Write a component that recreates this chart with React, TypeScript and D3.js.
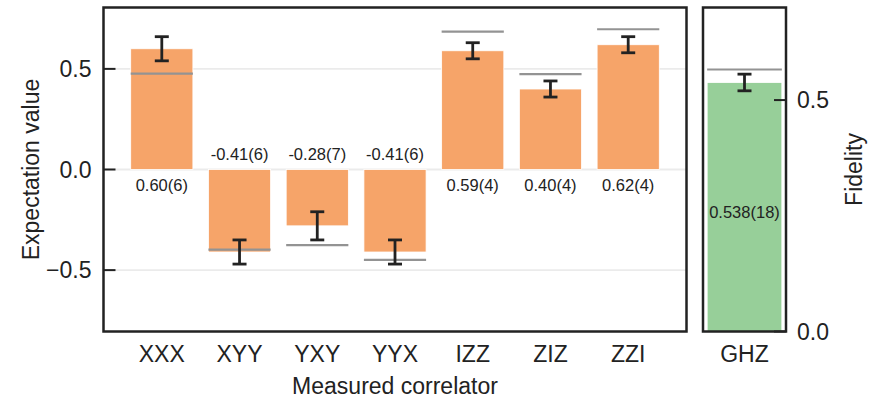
import React from "react";
import * as d3 from "d3";

const categories = ["XXX", "XYY", "YXY", "YYX", "IZZ", "ZIZ", "ZZI"];
const values = [0.6, -0.41, -0.28, -0.41, 0.59, 0.4, 0.62];
const errors = [0.06, 0.06, 0.07, 0.06, 0.04, 0.04, 0.04];
const ideals = [0.476, -0.398, -0.376, -0.449, 0.685, 0.474, 0.697];
const valueLabels = ["0.60(6)", "-0.41(6)", "-0.28(7)", "-0.41(6)", "0.59(4)", "0.40(4)", "0.62(4)"];
const leftTicks = [-0.5, 0, 0.5];
const leftTickLabels = ["\u22120.5", "0.0", "0.5"];

const ghzCategory = ["GHZ"];
const ghzValue = [0.538];
const ghzError = [0.018];
const ghzIdeal = [0.566];
const ghzLabel = ["0.538(18)"];
const rightTicks = [0, 0.5];
const rightTickLabels = ["0.0", "0.5"];

const FONT = "'Liberation Sans', Arial, Helvetica, sans-serif";
const TXT = "#222";
const ORANGE = "#F6A469";
const GREEN = "#97CF99";
const IDEAL = "#939393";

export default function App() {
  const W = 869;
  const H = 398;
  const top = 7.5;
  const bottom = 331.5;
  const L0 = 103.5, L1 = 686.5;
  const R0 = 703, R1 = 786;

  const x = d3.scaleLinear().domain([-0.75, 6.75]).range([L0, L1]);
  const y = d3.scaleLinear().domain([-0.805, 0.805]).range([bottom, top]);
  const x2 = d3.scaleLinear().domain([-0.5, 0.5]).range([R0, R1]);
  const y2 = d3.scaleLinear().domain([0, 0.7]).range([bottom, top]);
  const bw = 0.8;
  const bw2 = 0.9;
  const cap = 7;

  return (
    <svg width={W} height={H} style={{ position: "absolute", left: 0, top: 0, background: "#fff" }} fontFamily={FONT}>
      {/* left gridlines */}
      {leftTicks.map((t) => (
        <line key={"g" + t} x1={L0} x2={L1} y1={y(t)} y2={y(t)} stroke="#ebebeb" strokeWidth={1.8} />
      ))}
      {/* bars */}
      {values.map((v, i) => (
        <rect key={"b" + i} x={x(i - bw / 2)} width={x(i + bw / 2) - x(i - bw / 2)}
          y={Math.min(y(v), y(0))} height={Math.abs(y(v) - y(0))}
          fill={ORANGE} stroke="#fff" strokeWidth={0.8} />
      ))}
      {/* ideal lines */}
      {ideals.map((v, i) => (
        <line key={"i" + i} x1={x(i - bw / 2)} x2={x(i + bw / 2)} y1={y(v)} y2={y(v)} stroke={IDEAL} strokeWidth={2.2} />
      ))}
      {/* error bars */}
      {values.map((v, i) => (
        <g key={"e" + i} stroke="#222" strokeWidth={2.8}>
          <line x1={x(i)} x2={x(i)} y1={y(v - errors[i])} y2={y(v + errors[i])} />
          <line x1={x(i) - cap} x2={x(i) + cap} y1={y(v - errors[i])} y2={y(v - errors[i])} />
          <line x1={x(i) - cap} x2={x(i) + cap} y1={y(v + errors[i])} y2={y(v + errors[i])} />
        </g>
      ))}
      {/* value labels */}
      {values.map((v, i) => (
        <text key={"l" + i} x={x(i)} y={v >= 0 ? y(0) + 21.5 : y(0) - 10} textAnchor="middle" fontSize={16.5} fill={TXT}>
          {valueLabels[i]}
        </text>
      ))}
      {/* left ticks */}
      {leftTicks.map((t, i) => (
        <g key={"t" + t}>
          <line x1={L0} x2={L0 + 12} y1={y(t)} y2={y(t)} stroke="#222" strokeWidth={2} />
          <text x={L0 - 12} y={y(t)} dy="0.36em" textAnchor="end" fontSize={23} fill={TXT}>{leftTickLabels[i]}</text>
        </g>
      ))}
      {/* category labels */}
      {categories.map((c, i) => (
        <text key={"c" + c} x={x(i)} y={361.5} textAnchor="middle" fontSize={23} fill={TXT}>{c}</text>
      ))}
      <rect x={L0} y={top} width={L1 - L0} height={bottom - top} fill="none" stroke="#222" strokeWidth={2.5} />
      <text x={(L0 + L1) / 2} y={393.5} textAnchor="middle" fontSize={23} fill={TXT}>Measured correlator</text>
      <text transform={`translate(39,${(top + bottom) / 2}) rotate(-90)`} textAnchor="middle" fontSize={23} fill={TXT}>Expectation value</text>

      {/* right panel */}
      {ghzValue.map((v, i) => (
        <g key={"gb" + i}>
          <rect x={x2(i - bw2 / 2)} width={x2(i + bw2 / 2) - x2(i - bw2 / 2)} y={y2(v)} height={y2(0) - y2(v)}
            fill={GREEN} stroke="#fff" strokeWidth={0.8} />
          <line x1={x2(i - bw2 / 2)} x2={x2(i + bw2 / 2)} y1={y2(ghzIdeal[i])} y2={y2(ghzIdeal[i])} stroke={IDEAL} strokeWidth={2.2} />
          <g stroke="#222" strokeWidth={2.8}>
            <line x1={x2(i)} x2={x2(i)} y1={y2(v - ghzError[i])} y2={y2(v + ghzError[i])} />
            <line x1={x2(i) - cap} x2={x2(i) + cap} y1={y2(v - ghzError[i])} y2={y2(v - ghzError[i])} />
            <line x1={x2(i) - cap} x2={x2(i) + cap} y1={y2(v + ghzError[i])} y2={y2(v + ghzError[i])} />
          </g>
          <text x={x2(i)} y={y2(v / 2) + 11} textAnchor="middle" fontSize={16.5} fill={TXT}>{ghzLabel[i]}</text>
          <text x={x2(i)} y={361.5} textAnchor="middle" fontSize={23} fill={TXT}>{ghzCategory[i]}</text>
        </g>
      ))}
      {rightTicks.map((t, i) => (
        <g key={"rt" + t}>
          <line x1={R1 - 12} x2={R1} y1={y2(t)} y2={y2(t)} stroke="#222" strokeWidth={2} />
          <text x={R1 + 11} y={y2(t)} dy="0.36em" textAnchor="start" fontSize={23} fill={TXT}>{rightTickLabels[i]}</text>
        </g>
      ))}
      <rect x={R0} y={top} width={R1 - R0} height={bottom - top} fill="none" stroke="#222" strokeWidth={2.5} />
      <text transform={`translate(862,${(top + bottom) / 2}) rotate(-90)`} textAnchor="middle" fontSize={23} fill={TXT}>Fidelity</text>
    </svg>
  );
}
